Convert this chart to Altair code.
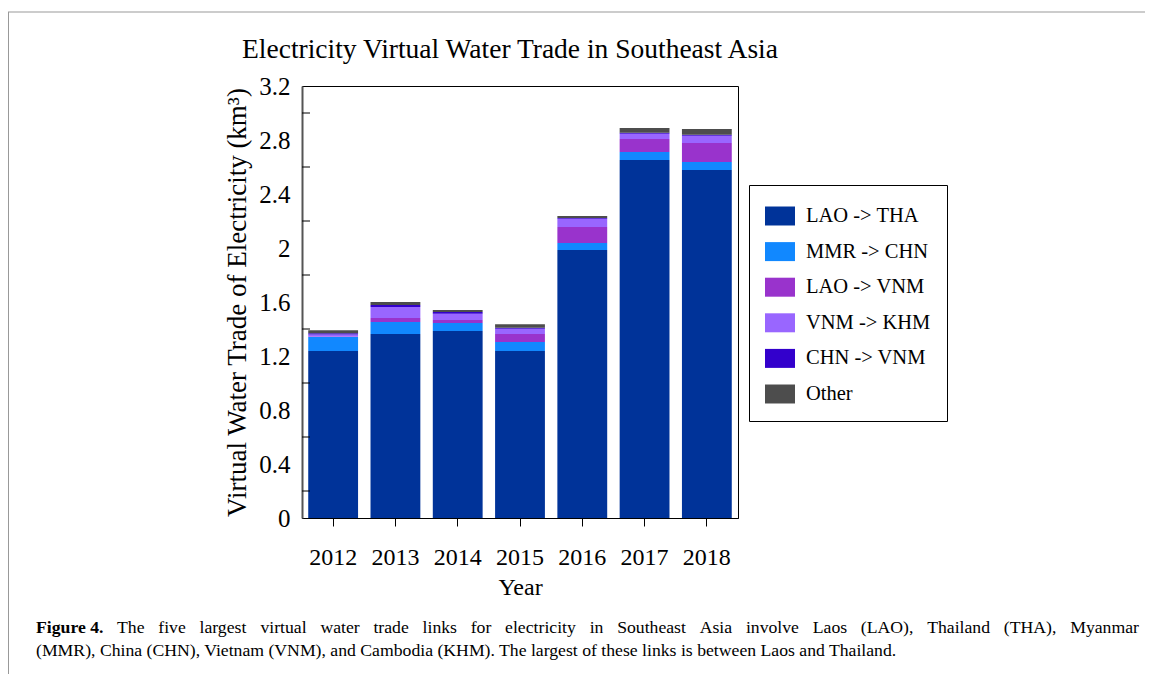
import altair as alt
import pandas as pd

# ---- data (km^3) ----
years = ["2012", "2013", "2014", "2015", "2016", "2017", "2018"]
series_names = ["LAO -> THA", "MMR -> CHN", "LAO -> VNM", "VNM -> KHM", "CHN -> VNM", "Other"]
series_colors = ["#003399", "#1188FF", "#9933CC", "#9966FF", "#3300CC", "#4D4D4D"]

lao_tha = [1.237, 1.363, 1.385, 1.237, 1.985, 2.652, 2.578]
mmr_chn = [0.104, 0.089, 0.059, 0.067, 0.052, 0.059, 0.059]
lao_vnm = [0.004, 0.030, 0.022, 0.059, 0.119, 0.096, 0.141]
vnm_khm = [0.015, 0.081, 0.047, 0.039, 0.061, 0.039, 0.054]
chn_vnm = [0.008, 0.015, 0.013, 0.007, 0.005, 0.007, 0.007]
other = [0.022, 0.022, 0.015, 0.027, 0.015, 0.035, 0.042]

y_label_values = [0, 0.4, 0.8, 1.2, 1.6, 2.0, 2.4, 2.8, 3.2]
y_tick_values = [0.2, 0.6, 1.0, 1.4, 1.8, 2.2, 2.6, 3.0]

title_text = "Electricity Virtual Water Trade in Southeast Asia"
y_title = "Virtual Water Trade of Electricity (km\u00b3)"
x_title = "Year"
caption_bold = "Figure 4."
caption_line1 = ("The five largest virtual water trade links for electricity in Southeast Asia "
                 "involve Laos (LAO), Thailand (THA), Myanmar")
caption_line2 = ("(MMR), China (CHN), Vietnam (VNM), and Cambodia (KHM). "
                 "The largest of these links is between Laos and Thailand.")

all_series = [lao_tha, mmr_chn, lao_vnm, vnm_khm, chn_vnm, other]
rows = []
for i, (name, vals) in enumerate(zip(series_names, all_series)):
    for yr, v in zip(years, vals):
        rows.append({"Year": yr, "Link": name, "Value": v, "ord": i})
df = pd.DataFrame(rows)

FONT = "Liberation Serif"
W, H = 436, 432
PAD_L, PAD_T = 294, 78
TOTAL_W, TOTAL_H = 1137, 666
CAP_SIZE = 17.7


def px(x):  # page x -> plot-area x
    return x - 8 - PAD_L


def py(y):  # page y -> plot-area y
    return y - 8 - PAD_T


# Times / Liberation Serif advance widths (1/1000 em) for justified caption layout
_TW = dict(zip("abcdefghijklmnopqrstuvwxyz",
               [444, 500, 444, 500, 444, 333, 500, 500, 278, 278, 500, 278, 778,
                500, 500, 500, 500, 333, 389, 278, 500, 500, 722, 500, 500, 444]))
_TW.update(dict(zip("ABCDEFGHIJKLMNOPQRSTUVWXYZ",
                    [722, 667, 667, 722, 611, 556, 722, 722, 333, 389, 722, 611, 889,
                     722, 722, 556, 722, 667, 556, 611, 722, 722, 944, 722, 722, 611])))
_TW.update({"(": 333, ")": 333, ",": 250, ".": 250, " ": 250, "-": 333, ">": 564})


def text_width(s, size):
    return sum(_TW.get(c, 500) for c in s) * size / 1000.0


# justify line 1 between x=117 and x=1139 (page pixels), like the journal caption
words = caption_line1.split(" ")
widths = [text_width(w, CAP_SIZE) for w in words]
x0, x1 = 117, 1139
gap = (x1 - x0 - sum(widths)) / (len(words) - 1)
word_x = []
cur = x0
for wd in widths:
    word_x.append(px(cur))
    cur += wd + gap
words_df = pd.DataFrame({"word": words, "wx": word_x})

y_axis = alt.Axis(title=y_title, values=y_label_values, format=".2~g", ticks=False,
                  labelFont=FONT, labelFontSize=25, labelPadding=12,
                  titleFont=FONT, titleFontSize=27, titleFontWeight="normal",
                  domainColor="#555555", domainWidth=2, grid=False,
                  labelColor="black", titleColor="black", titlePadding=7)
y_scale = alt.Scale(domain=[0, 3.2], nice=False)

bars = alt.Chart(df).mark_bar().encode(
    x=alt.X("Year:N",
            scale=alt.Scale(paddingInner=0.2, paddingOuter=0.1),
            axis=alt.Axis(title=x_title, labelAngle=0, labelFont=FONT, labelFontSize=24,
                          titleFont=FONT, titleFontSize=24, titleFontWeight="normal",
                          labelPadding=19, tickSize=8, tickColor="black",
                          domainColor="black", titlePadding=6, labelColor="black",
                          titleColor="black")),
    y=alt.Y("Value:Q", stack="zero", scale=y_scale, axis=y_axis),
    color=alt.Color("Link:N",
                    scale=alt.Scale(domain=series_names, range=series_colors),
                    legend=alt.Legend(title=None, orient="none", legendX=447, legendY=99,
                                      strokeColor="black", padding=16,
                                      symbolType="M-1,-0.633H1V0.633H-1Z", symbolSize=900,
                                      symbolStrokeWidth=0, symbolOpacity=1,
                                      labelFont=FONT, labelFontSize=20.5, labelColor="black",
                                      labelOffset=11, rowPadding=9.6, labelLimit=300)),
    order=alt.Order("ord:Q", sort="ascending"),
)

ticks = alt.Chart(pd.DataFrame({"Value": y_tick_values})).mark_rule(color="black", strokeWidth=1).encode(
    y=alt.Y("Value:Q", scale=y_scale, axis=y_axis),
    x=alt.value(0),
    x2=alt.value(8),
)

title = alt.Chart(pd.DataFrame({"t": [title_text]})).mark_text(
    font=FONT, fontSize=27.5, align="center", baseline="middle", color="black"
).encode(text="t:N", x=alt.value(px(510)), y=alt.value(py(50)))

cap_b = alt.Chart(pd.DataFrame({"t": [caption_bold]})).mark_text(
    font=FONT, fontSize=CAP_SIZE, fontWeight="bold", align="left", baseline="middle", color="black"
).encode(text="t:N", x=alt.value(px(36)), y=alt.value(py(628)))

cap_1 = alt.Chart(words_df).mark_text(
    font=FONT, fontSize=CAP_SIZE, align="left", baseline="middle", color="black"
).encode(text="word:N", x=alt.X("wx:Q", scale=None, axis=None), y=alt.value(py(628)))

cap_2 = alt.Chart(pd.DataFrame({"t": [caption_line2]})).mark_text(
    font=FONT, fontSize=CAP_SIZE, align="left", baseline="middle", color="black"
).encode(text="t:N", x=alt.value(px(36)), y=alt.value(py(651)))

frame_top = alt.Chart(pd.DataFrame({"a": [0]})).mark_rule(color="#999999", strokeWidth=1).encode(
    x=alt.value(-PAD_L), x2=alt.value(TOTAL_W), y=alt.value(py(12)))
frame_left = alt.Chart(pd.DataFrame({"a": [0]})).mark_rule(color="#999999", strokeWidth=1).encode(
    x=alt.value(-PAD_L + 0.5), y=alt.value(py(12)), y2=alt.value(TOTAL_H))

chart = alt.layer(frame_top, frame_left, bars, ticks, title, cap_b, cap_1, cap_2).resolve_scale(
    x="independent"
).properties(
    width=W, height=H,
    autosize=alt.AutoSizeParams(type="none"),
    padding={"left": PAD_L, "top": PAD_T, "right": TOTAL_W - PAD_L - W, "bottom": TOTAL_H - PAD_T - H},
).configure_view(stroke="black", strokeWidth=1)

chart.save("out.html", embed_options={"renderer": "svg", "actions": False})
